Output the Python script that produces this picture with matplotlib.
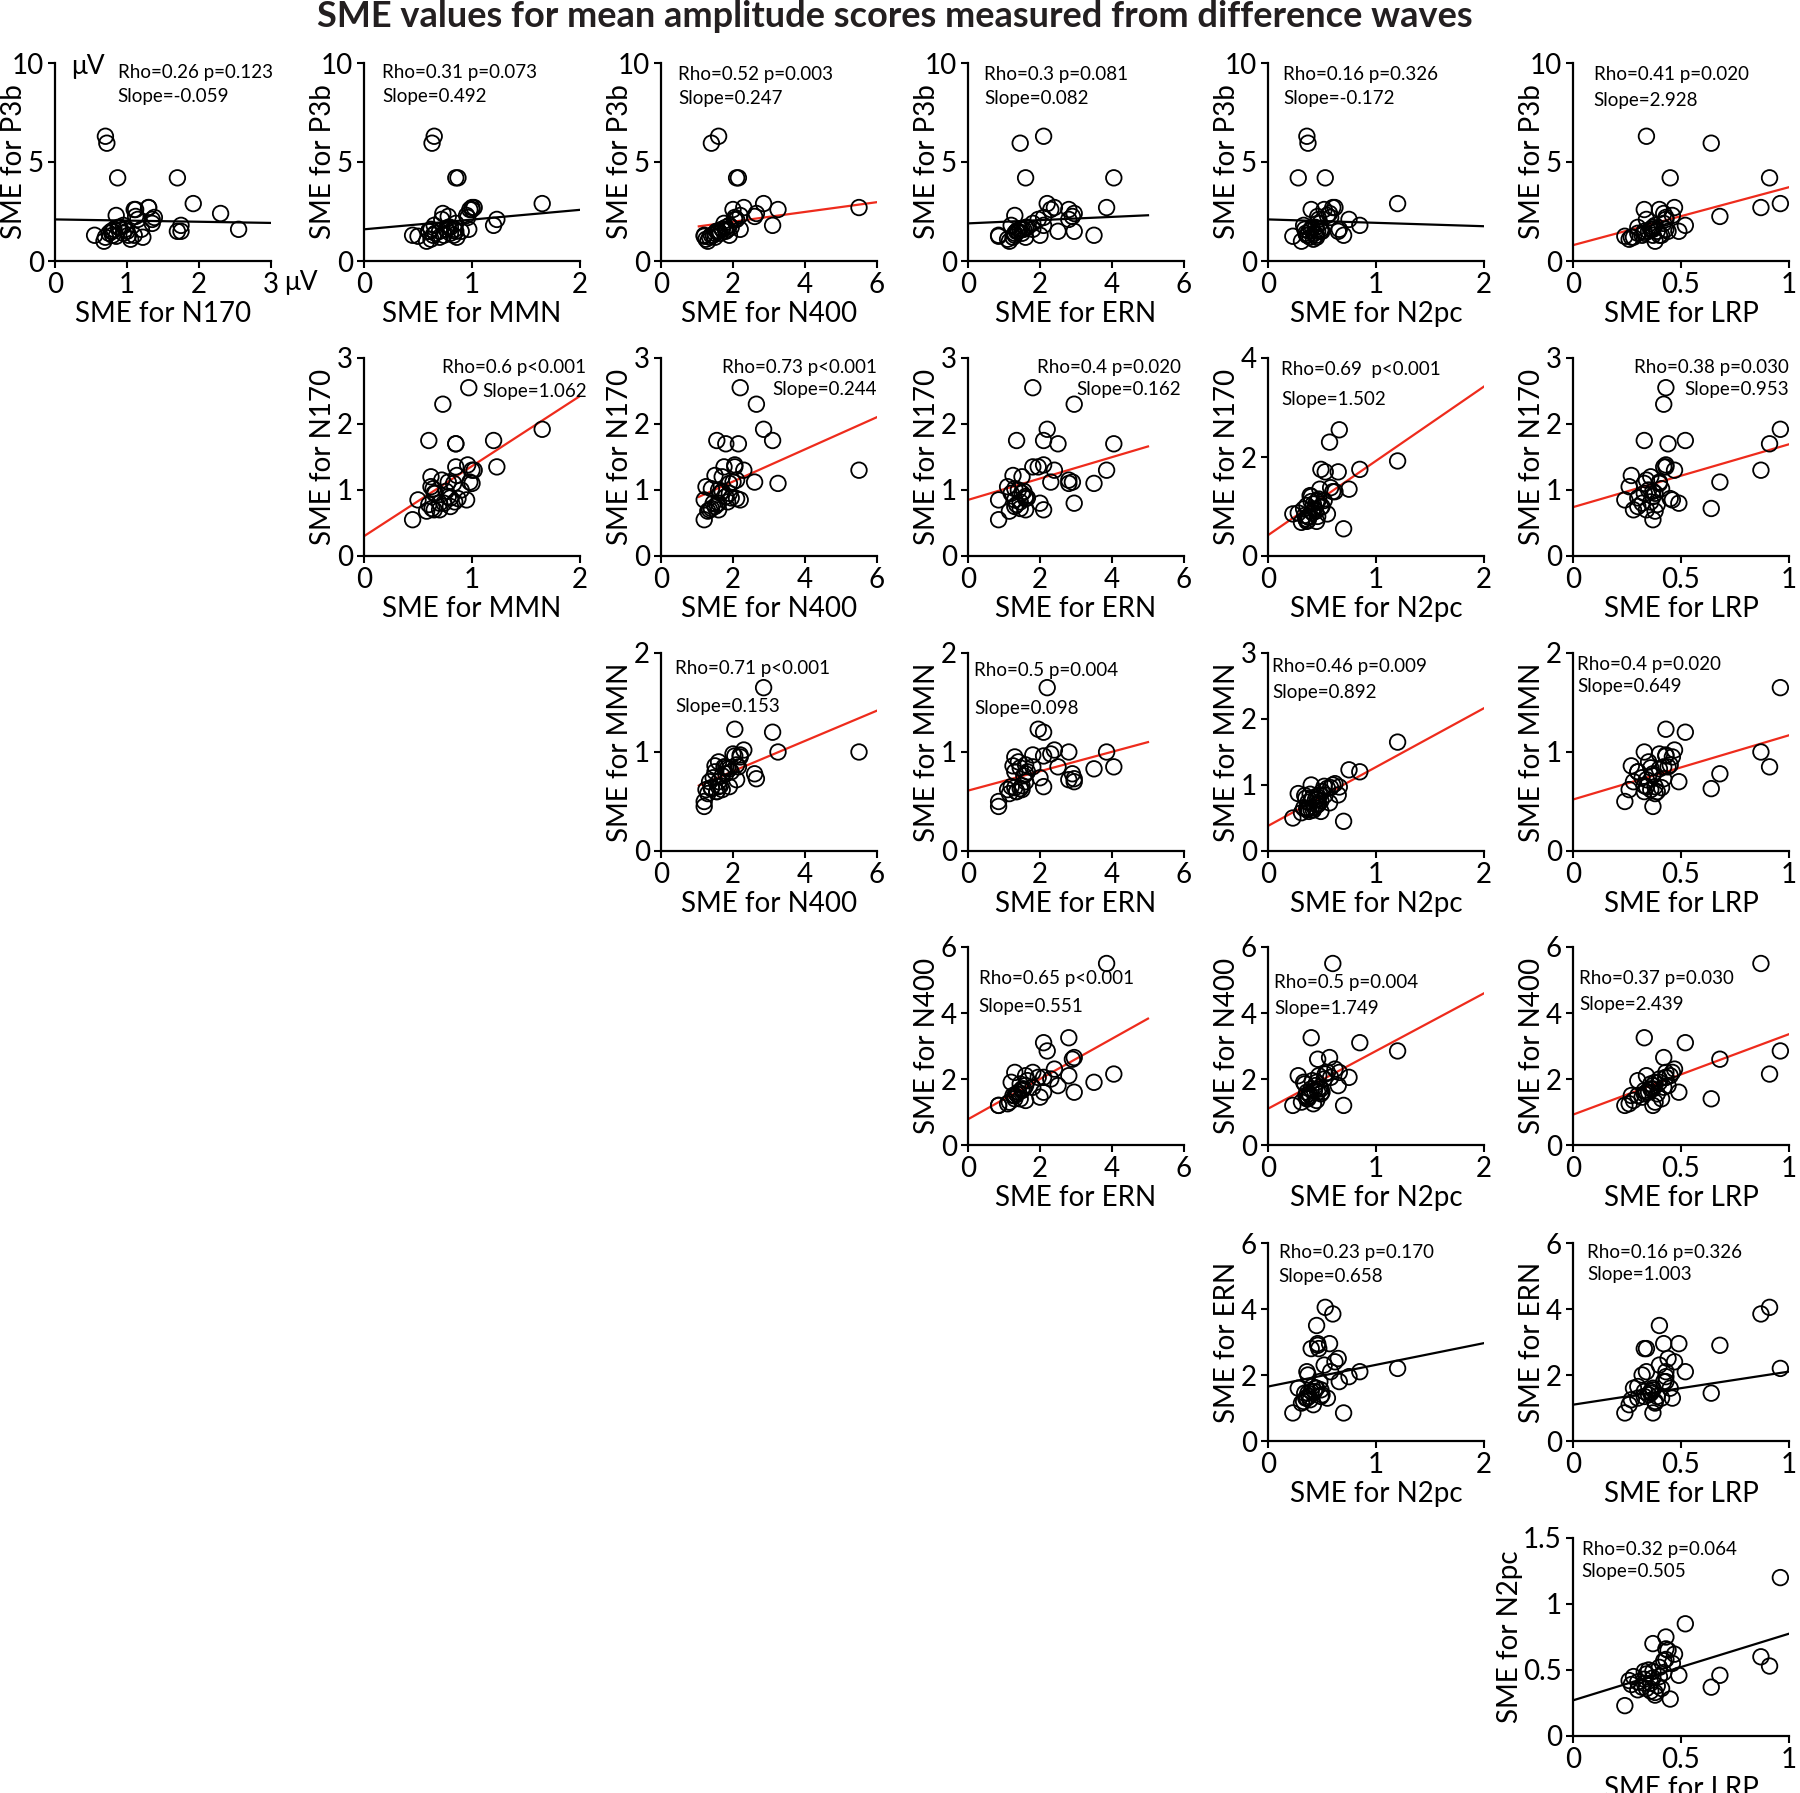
import numpy as np
import matplotlib
matplotlib.use('Agg')
import matplotlib.pyplot as plt

plt.rcParams['font.family'] = ['Lato', 'DejaVu Sans']

# SME values per subject (one entry per subject, same order in every list)
p3b = [2.9, 2.7, 4.2, 5.95, 6.3, 2.25, 4.2, 1.6, 2.4, 1.5, 1.8, 1.5, 2.1, 2.6, 1.3, 1.25, 1.3,
       1.4, 1.6, 1.2, 1.8, 1.5, 1.3, 2.6, 1.7, 1.1, 2.3, 1.5, 1.9, 1.4, 2.7, 1.6, 1.3, 2.1,
       1.0, 1.7, 1.5, 1.2, 2.2, 1.6]
n170 = [1.92, 1.3, 1.7, 0.72, 0.7, 1.12, 0.87, 2.55, 2.3, 1.75, 1.75, 1.7, 1.35, 1.1, 1.1, 0.85, 0.55,
        0.75, 1.20, 0.70, 0.95, 1.00, 0.80, 1.12, 0.90, 1.05, 0.85, 0.78, 1.35, 0.95, 1.30, 0.82,
        1.02, 1.15, 0.68, 0.88, 0.80, 1.22, 1.38, 0.98]
mmn = [1.65, 1.0, 0.85, 0.63, 0.65, 0.78, 0.87, 0.97, 0.73, 0.6, 1.2, 0.85, 1.23, 1.0, 0.83, 0.5, 0.45,
       0.80, 0.62, 0.70, 0.65, 0.90, 0.74, 0.98, 0.78, 0.62, 0.95, 0.60, 0.85, 0.66, 1.02, 0.84,
       0.64, 0.72, 0.58, 0.80, 0.70, 0.86, 0.96, 0.76]
n400 = [2.85, 5.5, 2.15, 1.4, 1.6, 2.6, 2.1, 2.2, 2.65, 1.55, 3.1, 1.8, 2.05, 3.25, 1.9, 1.2, 1.2,
        1.5, 1.7, 1.35, 1.9, 1.6, 1.45, 2.0, 1.8, 1.25, 2.2, 1.55, 1.75, 1.65, 2.3, 1.85, 1.4, 2.1,
        1.3, 1.95, 1.6, 1.5, 2.05, 1.7]
ern = [2.2, 3.85, 4.05, 1.45, 2.1, 2.9, 1.6, 1.8, 2.95, 1.35, 2.1, 2.5, 1.95, 2.8, 3.5, 0.85, 0.85,
       1.3, 1.5, 1.6, 1.2, 1.4, 2.0, 2.3, 1.6, 1.1, 1.3, 1.35, 1.8, 1.5, 2.4, 1.45, 1.3, 2.8,
       1.15, 1.65, 2.95, 1.25, 2.1, 1.55]
n2pc = [1.2, 0.6, 0.53, 0.37, 0.36, 0.46, 0.28, 0.66, 0.57, 0.49, 0.85, 0.65, 0.75, 0.4, 0.45, 0.23, 0.7,
        0.35, 0.40, 0.45, 0.33, 0.50, 0.37, 0.52, 0.44, 0.42, 0.55, 0.38, 0.48, 0.43, 0.62, 0.34,
        0.36, 0.47, 0.31, 0.41, 0.46, 0.39, 0.58, 0.49]
lrp = [0.96, 0.87, 0.91, 0.64, 0.34, 0.68, 0.45, 0.43, 0.42, 0.33, 0.52, 0.44, 0.43, 0.33, 0.4, 0.24, 0.37,
       0.30, 0.36, 0.28, 0.38, 0.35, 0.32, 0.40, 0.37, 0.26, 0.46, 0.39, 0.42, 0.33, 0.47, 0.36,
       0.41, 0.34, 0.38, 0.30, 0.49, 0.27, 0.43, 0.37]

sme = {'P3b': p3b, 'N170': n170, 'MMN': mmn, 'N400': n400,
       'ERN': ern, 'N2pc': n2pc, 'LRP': lrp}

y_comps = ['P3b', 'N170', 'MMN', 'N400', 'ERN', 'N2pc']
x_comps = ['N170', 'MMN', 'N400', 'ERN', 'N2pc', 'LRP']

x_ticks = {'N170': [0, 1, 2, 3], 'MMN': [0, 1, 2], 'N400': [0, 2, 4, 6],
           'ERN': [0, 2, 4, 6], 'N2pc': [0, 1, 2], 'LRP': [0, 0.5, 1]}
y_ticks = {'P3b': [0, 5, 10], 'N170': [0, 1, 2, 3], 'MMN': [0, 1, 2],
           'N400': [0, 2, 4, 6], 'ERN': [0, 2, 4, 6], 'N2pc': [0, 0.5, 1, 1.5]}
y_ticks_vs_n2pc = {'N170': [0, 2, 4], 'MMN': [0, 1, 2, 3]}

# x range covered by the regression line
fit_span = {'N170': (0, 3), 'MMN': (0, 2), 'N400': (1.05, 6), 'ERN': (0, 5),
            'N2pc': (0, 2), 'LRP': (0, 1)}

# panels (row, col) and their statistics
panels = [(0, 0), (0, 1), (0, 2), (0, 3), (0, 4), (0, 5),
          (1, 1), (1, 2), (1, 3), (1, 4), (1, 5),
          (2, 2), (2, 3), (2, 4), (2, 5),
          (3, 3), (3, 4), (3, 5),
          (4, 4), (4, 5),
          (5, 5)]
rho_text = ['Rho=0.26 p=0.123', 'Rho=0.31 p=0.073', 'Rho=0.52 p=0.003', 'Rho=0.3 p=0.081',
            'Rho=0.16 p=0.326', 'Rho=0.41 p=0.020',
            'Rho=0.6 p<0.001', 'Rho=0.73 p<0.001', 'Rho=0.4 p=0.020', 'Rho=0.69  p<0.001',
            'Rho=0.38 p=0.030',
            'Rho=0.71 p<0.001', 'Rho=0.5 p=0.004', 'Rho=0.46 p=0.009', 'Rho=0.4 p=0.020',
            'Rho=0.65 p<0.001', 'Rho=0.5 p=0.004', 'Rho=0.37 p=0.030',
            'Rho=0.23 p=0.170', 'Rho=0.16 p=0.326',
            'Rho=0.32 p=0.064']
p_values = [0.123, 0.073, 0.003, 0.081, 0.326, 0.020,
            0.001, 0.001, 0.020, 0.001, 0.030,
            0.001, 0.004, 0.009, 0.020,
            0.001, 0.004, 0.030,
            0.170, 0.326,
            0.064]
slope_text = ['Slope=-0.059', 'Slope=0.492', 'Slope=0.247', 'Slope=0.082', 'Slope=-0.172',
              'Slope=2.928',
              'Slope=1.062', 'Slope=0.244', 'Slope=0.162', 'Slope=1.502', 'Slope=0.953',
              'Slope=0.153', 'Slope=0.098', 'Slope=0.892', 'Slope=0.649',
              'Slope=0.551', 'Slope=1.749', 'Slope=2.439',
              'Slope=0.658', 'Slope=1.003',
              'Slope=0.505']
fit_slope = [-0.059, 0.492, 0.247, 0.082, -0.172, 2.928,
             1.062, 0.244, 0.162, 1.502, 0.953,
             0.153, 0.098, 0.892, 0.649,
             0.61, 1.749, 2.439,
             0.658, 1.003,
             0.505]
fit_icpt = [2.1, 1.6, 1.49, 1.9, 2.1, 0.8,
            0.3, 0.64, 0.85, 0.42, 0.74,
            0.50, 0.61, 0.38, 0.52,
            0.78, 1.1, 0.92,
            1.65, 1.1,
            0.27]

# text placement (axes fraction): x, y of first line, y of second line, alignment
stat_pos = [(0.29, 0.95, 0.83, 'left'), (0.085, 0.95, 0.83, 'left'), (0.08, 0.94, 0.82, 'left'),
            (0.075, 0.94, 0.82, 'left'), (0.07, 0.94, 0.82, 'left'), (0.095, 0.94, 0.81, 'left'),
            (1.03, 0.95, 0.83, 'right'), (1.0, 0.95, 0.84, 'right'), (0.985, 0.95, 0.84, 'right'),
            (0.06, 0.94, 0.79, 'left'), (1.0, 0.95, 0.84, 'right'),
            (0.065, 0.92, 0.73, 'left'), (0.03, 0.91, 0.72, 'left'), (0.02, 0.93, 0.80, 'left'),
            (0.02, 0.94, 0.83, 'left'),
            (0.05, 0.84, 0.70, 'left'), (0.03, 0.82, 0.69, 'left'), (0.03, 0.84, 0.71, 'left'),
            (0.05, 0.95, 0.83, 'left'), (0.065, 0.95, 0.84, 'left'),
            (0.04, 0.94, 0.83, 'left')]

W, H = 1800, 1793
col_left = [55, 364, 661, 968, 1268, 1573]
row_top = [63, 358, 653, 947, 1243, 1538]
aw, ah = 216, 198
red = '#ee2b1c'

fig = plt.figure(figsize=(W / 100, H / 100), dpi=100)

for i, (r, c) in enumerate(panels):
    yc, xc = y_comps[r], x_comps[c]
    ax = fig.add_axes([col_left[c] / W, 1 - (row_top[r] + ah) / H, aw / W, ah / H])

    ax.scatter(sme[xc], sme[yc], s=125, facecolors='none', edgecolors='black',
               linewidths=1.3, zorder=3, clip_on=False)

    xs = np.array(fit_span[xc])
    color = red if p_values[i] < 0.05 else 'black'
    ax.plot(xs, fit_icpt[i] + fit_slope[i] * xs, color=color, lw=1.6, zorder=2)

    xt = x_ticks[xc]
    yt = y_ticks_vs_n2pc[yc] if (xc == 'N2pc' and yc in y_ticks_vs_n2pc) else y_ticks[yc]
    ax.set_xlim(0, xt[-1])
    ax.set_ylim(0, yt[-1])
    ax.set_xticks(xt)
    ax.set_yticks(yt)
    ax.set_xticklabels(['{:g}'.format(v) for v in xt])
    ax.set_yticklabels(['{:g}'.format(v) for v in yt])

    for side in ['top', 'right']:
        ax.spines[side].set_visible(False)
    for side in ['left', 'bottom']:
        ax.spines[side].set_linewidth(1.6)
    ax.tick_params(direction='out', length=5, width=1.5, labelsize=20, pad=3)

    ax.set_xlabel('SME for ' + xc, fontsize=20)
    ax.set_ylabel('SME for ' + yc, fontsize=20)
    ax.xaxis.set_label_coords(0.5, -0.2)
    ax.yaxis.set_label_coords(-0.23 if yc == 'N2pc' else -0.13, 0.5)

    tx, ty1, ty2, ha = stat_pos[i]
    ax.text(tx, ty1, rho_text[i], transform=ax.transAxes, ha=ha, va='center', fontsize=13.5)
    ax.text(tx, ty2, slope_text[i], transform=ax.transAxes, ha=ha, va='center', fontsize=13.5)

    if (r, c) == (0, 0):
        ax.text(0.074, 0.98, 'μV', transform=ax.transAxes, ha='left', va='center', fontsize=19)
        ax.text(1.06, -0.11, 'μV', transform=ax.transAxes, ha='left', va='center', fontsize=19)

fig.text(0.497, 0.991, 'SME values for mean amplitude scores measured from difference waves',
         ha='center', va='center', fontsize=26, fontweight='bold', color='#231f20')

fig.savefig('out.png', dpi=100)
